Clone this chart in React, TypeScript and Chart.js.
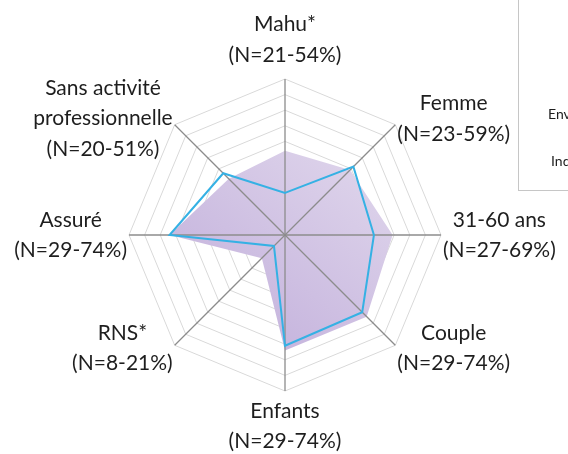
import React, { useEffect, useRef } from "react";
import { Chart, registerables } from "chart.js";

Chart.register(...registerables);

const categories = ["Mahu*", "Femme", "31-60 ans", "Couple", "Enfants", "RNS*", "Assuré", "Sans activité professionnelle"];
const labelLines = [
  ["Mahu*", "(N=21-54%)"],
  ["Femme", "(N=23-59%)"],
  ["31-60 ans", "(N=27-69%)"],
  ["Couple", "(N=29-74%)"],
  ["Enfants", "(N=29-74%)"],
  ["RNS*", "(N=8-21%)"],
  ["Assuré", "(N=29-74%)"],
  ["Sans activité", "professionnelle", "(N=20-51%)"],
];
const environnementValues = [54, 59, 69, 74, 74, 21, 74, 51];
const individuValues = [27, 62, 57, 70, 71, 10, 74, 56];
const legendLabels = ["Environnement", "Individu"];
const scaleMin = 0;
const scaleMax = 100;
const scaleStep = 10;

const FONT = "Lato";

const customPlugin = {
  id: "customRadar",
  afterDatasetDraw(chart: any, args: any) {
    if (args.index !== 1) return;
    const s = chart.scales.r;
    const ctx = chart.ctx;
    ctx.save();
    ctx.strokeStyle = "#8c8c8c";
    ctx.lineWidth = 1.3;
    for (let i = 0; i < categories.length; i++) {
      const p = s.getPointPosition(i, s.drawingArea);
      ctx.beginPath();
      ctx.moveTo(s.xCenter, s.yCenter);
      ctx.lineTo(p.x, p.y);
      ctx.stroke();
    }
    ctx.restore();
  },
  afterDraw(chart: any) {
    const s = chart.scales.r;
    const ctx = chart.ctx;
    ctx.save();
    ctx.font = `21px ${FONT}`;
    ctx.fillStyle = "#1e1e1e";
    ctx.textBaseline = "middle";
    ctx.textAlign = "center";
    const R = s.drawingArea;
    const lh = 30.5;
    labelLines.forEach((lines, i) => {
      const p = s.getPointPosition(i, R);
      const dx = p.x - s.xCenter;
      const dy = p.y - s.yCenter;
      const w = Math.max(...lines.map((l) => ctx.measureText(l).width));
      const n = lines.length;
      let cx: number;
      let firstY: number;
      if (Math.abs(dx) < 1) {
        cx = p.x;
        firstY = dy < 0 ? p.y - 24 - (n - 1) * lh : p.y + 20;
      } else {
        const shift = Math.abs(dy) < 1 ? 0 : dy < 0 ? -6 : 3;
        const midY = p.y + shift;
        firstY = midY - ((n - 1) * lh) / 2;
        cx = dx > 0 ? p.x + 2 + w / 2 : p.x - 2 - w / 2;
      }
      lines.forEach((l, k) => ctx.fillText(l, cx, firstY + k * lh));
    });
    ctx.restore();
  },
};

export default function App() {
  const ref = useRef<HTMLCanvasElement | null>(null);

  useEffect(() => {
    if (!ref.current) return;
    const chart = new Chart(ref.current, {
      type: "radar",
      data: {
        labels: categories,
        datasets: [
          {
            label: legendLabels[1],
            data: individuValues,
            borderColor: "#35b1e4",
            borderWidth: 2,
            backgroundColor: "rgba(0,0,0,0)",
            fill: false,
            pointRadius: 0,
            tension: 0,
          },
          {
            label: legendLabels[0],
            data: environnementValues,
            borderWidth: 0,
            borderColor: "rgba(0,0,0,0)",
            fill: true,
            pointRadius: 0,
            tension: 0,
            backgroundColor: (c: any) => {
              const ch = c.chart;
              const s = ch.scales && ch.scales.r;
              if (!s || !s.drawingArea) return "#cbbde0";
              const R = s.drawingArea;
              const g = ch.ctx.createLinearGradient(s.xCenter + R * 0.8, s.yCenter - R * 0.9, s.xCenter - R * 0.6, s.yCenter + R * 0.9);
              g.addColorStop(0, "rgb(231,224,240)");
              g.addColorStop(1, "rgb(190,170,217)");
              return g;
            },
          },
        ],
      },
      options: {
        responsive: false,
        animation: false,
        devicePixelRatio: 1,
        layout: { padding: { top: 79, bottom: 63, left: 2, right: 0 } },
        plugins: { legend: { display: false }, tooltip: { enabled: false } },
        scales: {
          r: {
            min: scaleMin,
            max: scaleMax,
            ticks: { display: false, stepSize: scaleStep },
            grid: { circular: false, color: "#d9d9d9", lineWidth: 1 },
            angleLines: { display: false },
            pointLabels: { display: false },
          },
        },
      },
      plugins: [customPlugin],
    } as any);
    if ((document as any).fonts && (document as any).fonts.load) {
      (document as any).fonts.load(`21px ${FONT}`).then(() => chart.draw()).catch(() => {});
    }
    return () => chart.destroy();
  }, []);

  return (
    <div style={{ position: "fixed", left: 0, top: 0, width: 568, height: 454, overflow: "hidden", background: "#fff" }}>
      <canvas ref={ref} width={568} height={454} style={{ position: "absolute", left: 0, top: 0, width: 568, height: 454 }} />
      <div
        style={{
          position: "absolute",
          left: 518,
          top: -1,
          width: 120,
          height: 191,
          borderLeft: "1px solid #c6c6c6",
          borderBottom: "1px solid #c6c6c6",
          fontFamily: FONT,
          fontSize: 14,
          color: "#1e1e1e",
        }}
      >
        <div style={{ position: "absolute", left: 29, top: 107, lineHeight: "16px", whiteSpace: "nowrap" }}>{legendLabels[0]}</div>
        <div style={{ position: "absolute", left: 32, top: 154, lineHeight: "16px", whiteSpace: "nowrap" }}>{legendLabels[1]}</div>
      </div>
    </div>
  );
}
